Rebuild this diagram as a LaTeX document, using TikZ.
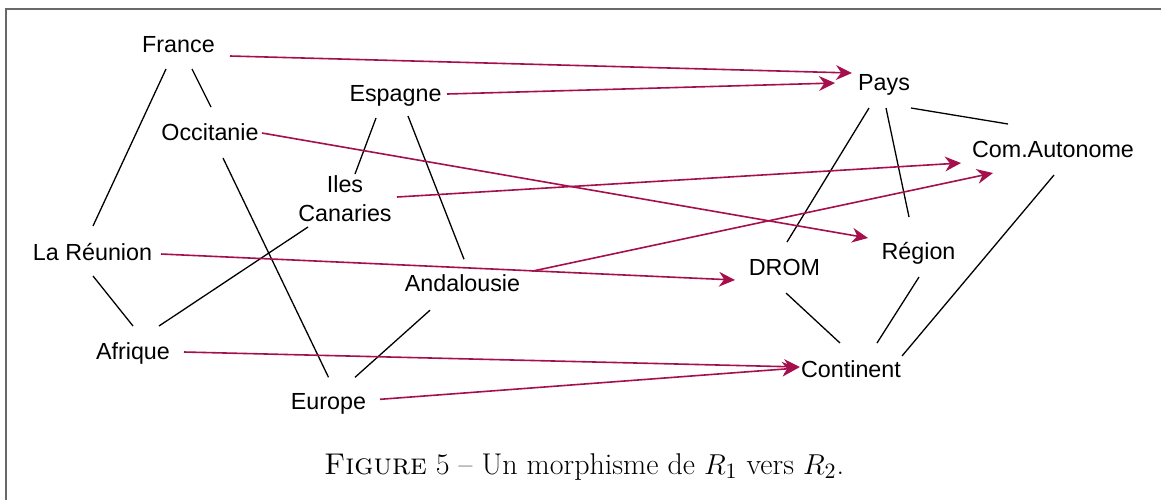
\documentclass[tikz,border=0pt]{standalone}
\usepackage{fontspec}
\newfontfamily\labelfont{Liberation Sans}
\usetikzlibrary{arrows.meta}
\definecolor{maparrow}{RGB}{165,15,75}
\definecolor{framegray}{RGB}{105,105,105}
\begin{document}
\begin{tikzpicture}[x=0.5pt,y=-0.5pt,
  lbl/.style={inner sep=0pt, font=\labelfont\fontsize{11.65}{14.5}\selectfont, anchor=base},
  edge/.style={line width=0.65pt, black},
  mapsto/.style={line width=0.8pt, maparrow, -{Stealth[length=8pt,width=7.4pt,inset=2.6pt]}}]
\useasboundingbox (0,0) rectangle (1161,500);

% frame of the figure
\draw[framegray, line width=0.65pt] (6,500) -- (6,9) -- (1161,9);

% relation R1
\node[lbl] (France) at (178.5,52) {France};
\node[lbl] (Occitanie) at (210,140) {Occitanie};
\node[lbl] (Reunion) at (92.5,260) {La Réunion};
\node[lbl] (Afrique) at (133,359) {Afrique};
\node[lbl] (Espagne) at (395.5,101.5) {Espagne};
\node[lbl, anchor=south, align=center] (Canaries) at (345,222) {Iles\\Canaries};
\node[lbl] (Andalousie) at (462.5,291.7) {Andalousie};
\node[lbl] (Europe) at (328.5,409.3) {Europe};

% relation R2
\node[lbl] (Pays) at (884,90) {Pays};
\node[lbl] (ComAut) at (1053,157.5) {Com.Autonome};
\node[lbl] (DROM) at (784.5,275) {DROM};
\node[lbl] (Region) at (918.5,259.5) {Région};
\node[lbl] (Continent) at (851,377) {Continent};

% edges of R1
\draw[edge] ([shift={(-12.5,17)}]France.base) -- ([shift={(0.5,-34)}]Reunion.base);
\draw[edge] ([shift={(13.5,17)}]France.base) -- ([shift={(1,-33)}]Occitanie.base);
\draw[edge] ([shift={(13,18)}]Occitanie.base) -- ([shift={(0,-32)}]Europe.base);
\draw[edge] ([shift={(0.5,16)}]Reunion.base) -- ([shift={(0,-33)}]Afrique.base);
\draw[edge] ([shift={(26,-33)}]Afrique.base) -- ([shift={(-37,5)}]Canaries.south);
\draw[edge] ([shift={(26.5,-32)}]Europe.base) -- ([shift={(-32.5,18.5)}]Andalousie.base);
\draw[edge] ([shift={(-19.5,16.5)}]Espagne.base) -- ([shift={(10,-48)}]Canaries.south);
\draw[edge] ([shift={(12.5,14.5)}]Espagne.base) -- ([shift={(1.5,-32.5)}]Andalousie.base);

% edges of R2
\draw[edge] ([shift={(-15,18)}]Pays.base) -- ([shift={(2.5,-33)}]DROM.base);
\draw[edge] ([shift={(2,18)}]Pays.base) -- ([shift={(-9.5,-42.5)}]Region.base);
\draw[edge] ([shift={(27,18)}]Pays.base) -- ([shift={(-45,-33.5)}]ComAut.base);
\draw[edge] ([shift={(1,17.5)}]ComAut.base) -- ([shift={(51,-21)}]Continent.base);
\draw[edge] ([shift={(1.5,18)}]DROM.base) -- ([shift={(-11,-34)}]Continent.base);
\draw[edge] ([shift={(0.5,17.5)}]Region.base) -- ([shift={(26,-34)}]Continent.base);

% the morphism
\draw[mapsto] ([shift={(51.5,4)}]France.base) -- ([shift={(-32,-17)}]Pays.base);
\draw[mapsto] ([shift={(51.5,-7.5)}]Espagne.base) -- ([shift={(-49,-7)}]Pays.base);
\draw[mapsto] ([shift={(52,-7)}]Occitanie.base) -- ([shift={(-50.5,-21.5)}]Region.base);
\draw[mapsto] ([shift={(52,-25)}]Canaries.south) -- ([shift={(-92,5.5)}]ComAut.base);
\draw[mapsto] ([shift={(69.5,-20.5)}]Andalousie.base) -- ([shift={(-60,15.5)}]ComAut.base);
\draw[mapsto] ([shift={(68.5,-6)}]Reunion.base) -- ([shift={(-49.5,5)}]DROM.base);
\draw[mapsto] ([shift={(51,-7)}]Afrique.base) -- ([shift={(-51,-10)}]Continent.base);
\draw[mapsto] ([shift={(51.5,-10)}]Europe.base) -- ([shift={(-53,-9)}]Continent.base);

% caption
\node[inner sep=0pt, anchor=base, font=\fontsize{15}{18}\selectfont] (caption) at (584,474)
  {\textsc{Figure} 5 \textendash{} Un morphisme de $R_1$ vers $R_2$.};
\end{tikzpicture}
\end{document}
